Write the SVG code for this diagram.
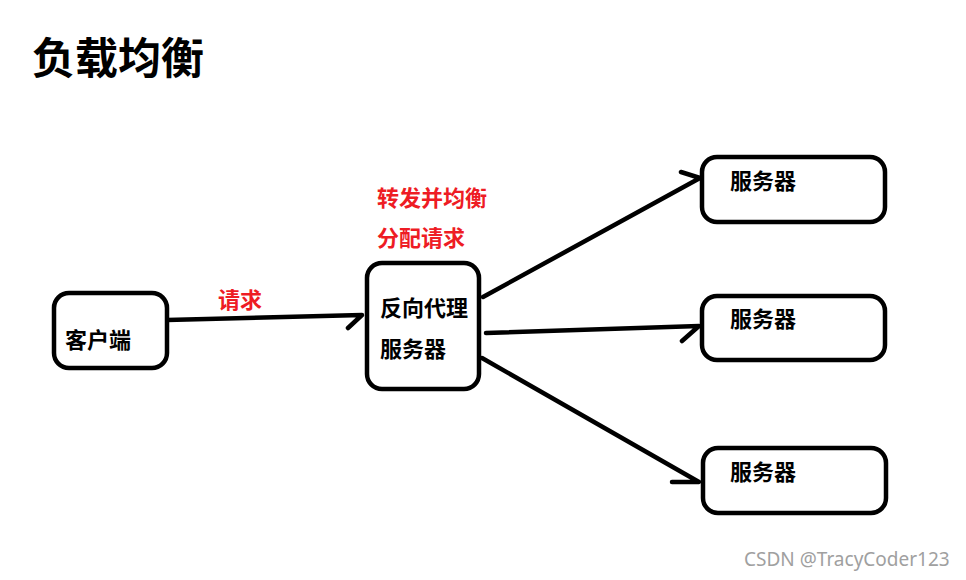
<svg xmlns="http://www.w3.org/2000/svg" width="966" height="580" viewBox="0 0 966 580">
<style>
.box{fill:#fff;stroke:#000;stroke-width:4.5}
.t{font-family:"Noto Sans CJK SC","Noto Sans",sans-serif;font-weight:bold;font-size:22px;fill:#000}
.r{font-family:"Noto Sans CJK SC","Noto Sans",sans-serif;font-weight:bold;font-size:22px;fill:#ee1c24}
.c{fill:none;stroke:#000;stroke-width:4.5;stroke-linecap:round;stroke-linejoin:round}
</style>
<rect width="966" height="580" fill="#fff"/>
<text x="32" y="74" font-family="'Noto Sans CJK SC','Noto Sans',sans-serif" font-weight="bold" font-size="43" fill="#000">负载均衡</text>
<g id="connectors">
<path class="c" d="M167,320 L362,315 L348,328"/>
<path class="c" d="M483,297 L700,178 L681,172"/>
<path class="c" d="M486,333 L699,326 L682,341"/>
<path class="c" d="M482,358 L699,482 L672,482"/>
</g>
<g id="label-request"><text class="r" x="218" y="308">请求</text></g>
<g id="label-forward">
<text class="r" x="377" y="206">转发并均衡</text>
<text class="r" x="377" y="246">分配请求</text>
</g>
<g id="client">
<rect class="box" x="54" y="293" width="113" height="75" rx="15"/>
<text class="t" x="65" y="348">客户端</text>
</g>
<g id="proxy">
<rect class="box" x="367" y="263" width="112" height="126" rx="15"/>
<text class="t" x="380" y="316">反向代理</text>
<text class="t" x="380" y="357">服务器</text>
</g>
<g id="server1">
<rect class="box" x="702" y="157" width="183" height="65" rx="15"/>
<text class="t" x="730" y="189">服务器</text>
</g>
<g id="server2">
<rect class="box" x="702" y="296" width="183" height="64" rx="15"/>
<text class="t" x="730" y="327">服务器</text>
</g>
<g id="server3">
<rect class="box" x="703" y="448" width="183" height="65" rx="15"/>
<text class="t" x="730" y="480">服务器</text>
</g>
<text x="744" y="566" font-family="'Noto Sans','Open Sans',sans-serif" font-size="19" fill="#a0a0a0">CSDN @TracyCoder123</text>
</svg>
